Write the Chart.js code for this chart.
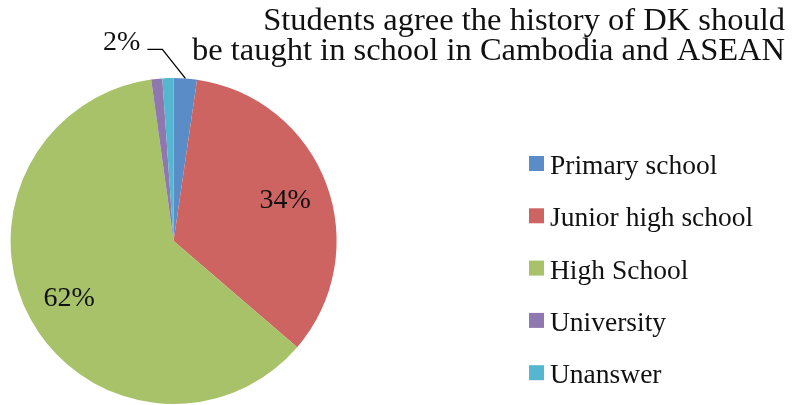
<!DOCTYPE html>
<html>
<head>
<meta charset="utf-8">
<script src="https://cdn.jsdelivr.net/npm/chart.js@4"></script>
<style>
  html, body { margin: 0; padding: 0; background: #fff; }
  #wrap { width: 795px; height: 405px; position: relative; }
</style>
</head>
<body>
<div id="wrap"><canvas id="pie" width="795" height="405"></canvas></div>
<script>
const titleLines = [
  "Students agree the history of DK should",
  "be taught in school in Cambodia and ASEAN",
];
const categories = [
  "Primary school",
  "Junior high school",
  "High School",
  "University",
  "Unanswer",
];
const shares = [2.3, 34.0, 61.5, 1.1, 1.1];
const sliceColors = ["#5a8dc8", "#cd6461", "#a8c26a", "#8f78b0", "#55b6cf"];

const SERIF = "'Liberation Serif', 'DejaVu Serif', serif";
const INK = "#111";

// labels, legend and title drawn by hand to copy the Excel layout
const decorPlugin = {
  id: "decor",
  afterDatasetsDraw(chart) {
    const ctx = chart.ctx;
    const arcs = chart.getDatasetMeta(0).data;
    ctx.save();
    ctx.fillStyle = INK;
    ctx.font = "28px " + SERIF;
    ctx.textBaseline = "middle";
    arcs.forEach((arc, i) => {
      const v = shares[i];
      if (v < 2) return;
      const txt = Math.round(v) + "%";
      const mid = (arc.startAngle + arc.endAngle) / 2;
      if (v < 5) {
        // outside label with leader line
        const ex = arc.x + Math.cos(mid) * arc.outerRadius;
        const ey = arc.y + Math.sin(mid) * arc.outerRadius;
        const bx = ex - 23, by = ey - 29;
        ctx.strokeStyle = "#000";
        ctx.lineWidth = 1.3;
        ctx.beginPath();
        ctx.moveTo(ex, ey);
        ctx.lineTo(bx, by);
        ctx.lineTo(bx - 15, by);
        ctx.stroke();
        ctx.textAlign = "right";
        ctx.fillText(txt, bx - 22, by - 7);
      } else {
        const r = arc.outerRadius * 0.73;
        ctx.textAlign = "center";
        ctx.fillText(txt, arc.x + Math.cos(mid) * r, arc.y + Math.sin(mid) * r + 1);
      }
    });

    // legend
    ctx.font = "27.5px " + SERIF;
    ctx.textAlign = "left";
    ctx.textBaseline = "alphabetic";
    categories.forEach((name, i) => {
      const top = 156 + i * 52.3;
      ctx.fillStyle = sliceColors[i];
      ctx.fillRect(529, top, 15, 15);
      ctx.fillStyle = INK;
      ctx.fillText(name, 550, top + 18);
    });

    // title
    ctx.font = "32.5px " + SERIF;
    ctx.textAlign = "right";
    titleLines.forEach((line, i) => {
      ctx.fillText(line, 785, 30 + i * 30);
    });
    ctx.restore();
  },
};

new Chart(document.getElementById("pie"), {
  type: "pie",
  data: {
    labels: categories,
    datasets: [
      {
        data: shares,
        backgroundColor: sliceColors,
        borderWidth: 0,
        hoverOffset: 0,
      },
    ],
  },
  options: {
    responsive: false,
    animation: false,
    events: [],
    layout: { padding: { top: 78, bottom: 1, left: 10.6, right: 458.4 } },
    plugins: {
      legend: { display: false },
      title: { display: false },
      tooltip: { enabled: false },
    },
  },
  plugins: [decorPlugin],
});
</script>
</body>
</html>
